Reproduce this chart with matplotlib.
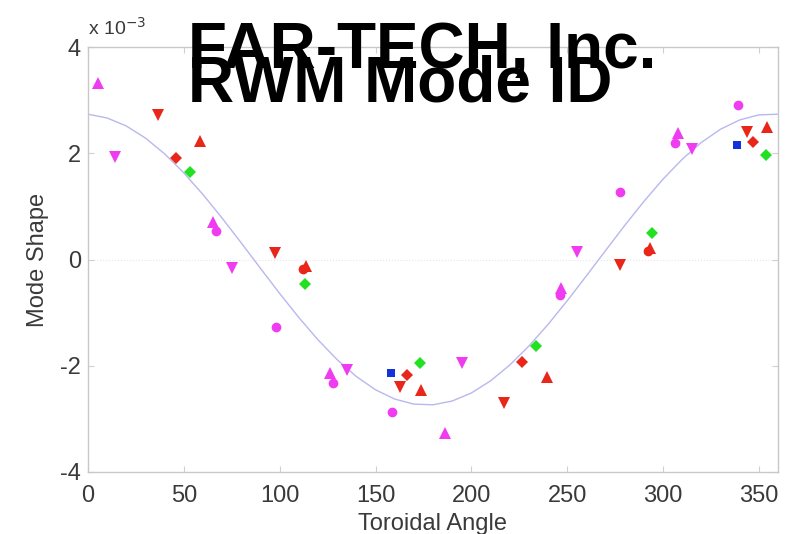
import matplotlib
matplotlib.use("Agg")
import matplotlib.pyplot as plt

plt.rcParams['font.family'] = ['Liberation Sans', 'DejaVu Sans']

# ---- data (mode shape in units of 1e-3) ----
fit_angle = [0, 10, 20, 30, 40, 50, 60, 70, 80, 90, 100, 110, 120, 130, 140, 150, 160, 170, 180,
             190, 200, 210, 220, 230, 240, 250, 260, 270, 280, 290, 300, 310, 320, 330, 340, 350, 360]
fit_shape = [2.735, 2.664, 2.513, 2.285, 1.988, 1.630, 1.223, 0.778, 0.310, -0.167, -0.640, -1.092,
             -1.512, -1.886, -2.203, -2.452, -2.627, -2.722, -2.735, -2.664, -2.513, -2.285, -1.988,
             -1.630, -1.223, -0.778, -0.310, 0.167, 0.640, 1.092, 1.512, 1.886, 2.203, 2.452, 2.627,
             2.722, 2.735]

mag_up_x = [5.2, 65.2, 126.0, 186.2, 247.0, 307.8]
mag_up_y = [3.32, 0.71, -2.14, -3.27, -0.54, 2.38]

mag_dn_x = [14.1, 75.0, 135.0, 195.0, 255.0, 315.0]
mag_dn_y = [1.93, -0.16, -2.08, -1.95, 0.14, 2.08]

mag_ci_x = [66.8, 98.0, 127.7, 158.6, 246.0, 277.5, 306.0, 339.0]
mag_ci_y = [0.54, -1.27, -2.33, -2.87, -0.67, 1.27, 2.19, 2.91]

red_dn_x = [36.5, 97.5, 162.8, 217.0, 277.5, 343.7]
red_dn_y = [2.72, 0.12, -2.40, -2.70, -0.10, 2.40]

red_di_x = [46.0, 166.4, 226.4, 347.0]
red_di_y = [1.91, -2.17, -1.93, 2.21]

red_up_x = [58.4, 113.5, 173.7, 239.4, 293.0, 354.0]
red_up_y = [2.23, -0.12, -2.46, -2.21, 0.22, 2.50]

red_ci_x = [112.3, 292.0]
red_ci_y = [-0.18, 0.16]

grn_di_x = [53.2, 113.2, 173.2, 233.7, 294.2, 353.7]
grn_di_y = [1.65, -0.46, -1.95, -1.63, 0.50, 1.97]

blu_sq_x = [158.0, 338.5]
blu_sq_y = [-2.14, 2.16]

x_ticks = [0, 50, 100, 150, 200, 250, 300, 350]
y_ticks = [-4, -2, 0, 2, 4]

MAG = '#f03cf0'
RED = '#e8261a'
GRN = '#22e022'
BLU = '#1432dc'

fig = plt.figure(figsize=(7.99, 5.34), dpi=100)
ax = fig.add_axes([88/799, 1-472/534, (778-88)/799, (472-47)/534])

ax.axhline(0, color='#e6e6e6', lw=0.8, ls=':', zorder=0)
ax.plot(fit_angle, fit_shape, color='#b8b8ee', lw=1.0, zorder=1)

kw = dict(ls='none', markeredgewidth=0, zorder=3)
ax.plot(mag_up_x, mag_up_y, marker='^', ms=8, color=MAG, **kw)
ax.plot(mag_dn_x, mag_dn_y, marker='v', ms=8, color=MAG, **kw)
ax.plot(mag_ci_x, mag_ci_y, marker='o', ms=7, color=MAG, **kw)
ax.plot(red_dn_x, red_dn_y, marker='v', ms=8, color=RED, **kw)
ax.plot(red_up_x, red_up_y, marker='^', ms=8, color=RED, **kw)
ax.plot(red_ci_x, red_ci_y, marker='o', ms=7, color=RED, **kw)
ax.plot(red_di_x, red_di_y, marker='D', ms=6.5, color=RED, **kw)
ax.plot(grn_di_x, grn_di_y, marker='D', ms=6.5, color=GRN, **kw)
ax.plot(blu_sq_x, blu_sq_y, marker='s', ms=6, color=BLU, **kw)

ax.set_xlim(0, 360)
ax.set_ylim(-4, 4)
ax.set_xticks(x_ticks)
ax.set_yticks(y_ticks)
ax.set_yticklabels([str(v) for v in y_ticks])

for s in ax.spines.values():
    s.set_color('#c8c8c8')
    s.set_linewidth(1.0)
ax.tick_params(direction='in', length=4, color='#d0d0d0', labelcolor='#3a3a3a',
               labelsize=17, top=True, right=True)
ax.tick_params(axis='x', pad=9)
ax.tick_params(axis='y', pad=5)

ax.set_xlabel('Toroidal Angle', fontsize=17, color='#3a3a3a', labelpad=5)
ax.set_ylabel('Mode Shape', fontsize=17, color='#3a3a3a', labelpad=8)

ax.text(0.0, 1.02, r'x 10$^{-3}$', transform=ax.transAxes, fontsize=14,
        color='#3a3a3a', ha='left', va='bottom')

fig.text(188/799, 1-68/534, 'FAR-TECH, Inc.', fontsize=46, fontweight='bold',
         color='black', ha='left', va='baseline', zorder=10)
fig.text(188/799, 1-102/534, 'RWM Mode ID', fontsize=46, fontweight='bold',
         color='black', ha='left', va='baseline', zorder=10)

fig.savefig('out.png', dpi=100)
